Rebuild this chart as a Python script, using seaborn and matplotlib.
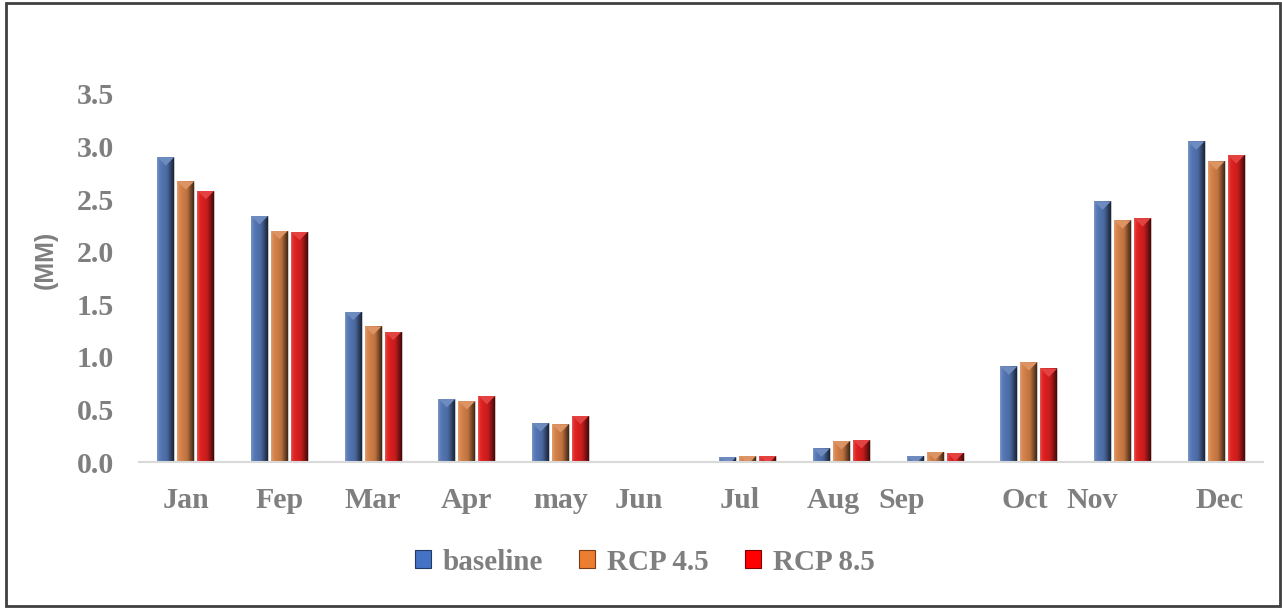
import numpy as np
import pandas as pd
import matplotlib.pyplot as plt
import matplotlib.transforms as mtransforms
from matplotlib.patches import Patch, Polygon, Rectangle
from matplotlib.colors import to_rgb
import seaborn as sns

# ---- data ----
months = ['Jan', 'Fep', 'Mar', 'Apr', 'may', 'Jun', 'Jul', 'Aug', 'Sep', 'Oct', 'Nov', 'Dec']
baseline = [2.90, 2.34, 1.43, 0.60, 0.37, 0.0, 0.05, 0.13, 0.06, 0.91, 2.48, 3.05]
rcp45 = [2.67, 2.20, 1.29, 0.58, 0.36, 0.0, 0.06, 0.20, 0.10, 0.95, 2.30, 2.86]
rcp85 = [2.58, 2.19, 1.24, 0.63, 0.44, 0.0, 0.06, 0.21, 0.09, 0.89, 2.32, 2.92]
series = ['baseline', 'RCP 4.5', 'RCP 8.5']
y_ticks = [0.0, 0.5, 1.0, 1.5, 2.0, 2.5, 3.0, 3.5]

colors = ['#4472C4', '#ED7D31', '#FF0000']
grey = '#7f7f7f'
# month labels in the original are not centred under their groups (pixels)
label_shift_px = [0, 0, 0, 0, 0, -15, -8, -8, -34, -4, -30, 3]

df = pd.DataFrame({
    'month': months * 3,
    'value': baseline + rcp45 + rcp85,
    'scenario': np.repeat(series, len(months)),
})

sns.set_theme(style='white')
plt.rcParams['font.family'] = ['Liberation Serif', 'DejaVu Serif']

fig = plt.figure(figsize=(12.82, 6.08), dpi=100)
ax = fig.add_axes([0.1084, 0.2401, 0.8768, 0.6053])

sns.barplot(data=df, x='month', y='value', hue='scenario', hue_order=series,
            palette=colors, width=0.64, gap=0.15, ax=ax, legend=False,
            edgecolor='#c8c8c8', linewidth=0.6, zorder=2)

ax.set_xlim(-0.5, len(months) - 0.5)
ax.set_ylim(0, 3.5)


def shade(rgb, f):
    rgb = np.asarray(rgb)
    if f <= 1:
        return rgb * f
    return rgb + (1 - rgb) * (f - 1)


# cylinder-like shading + bevelled top, like the office 3D bars
t = np.linspace(0, 1, 64)
prof = np.interp(t, [0, 0.1, 0.22, 0.6, 1.0], [1.25, 1.08, 1.0, 0.88, 0.3])
px_x = ax.transData.transform((1, 0))[0] - ax.transData.transform((0, 0))[0]
px_y = ax.transData.transform((0, 1))[1] - ax.transData.transform((0, 0))[1]
for p in list(ax.patches):
    h = p.get_height()
    if h <= 0:
        continue
    x0, w, y0 = p.get_x(), p.get_width(), p.get_y()
    base = to_rgb(p.get_facecolor())
    grad = np.array([[shade(base, f) for f in prof]])
    im = ax.imshow(grad, extent=[x0, x0 + w, y0, y0 + h], aspect='auto',
                   zorder=2.1, interpolation='bilinear')
    im.set_clip_path(p)
    d = (w / 2) * px_x / px_y
    tri = Polygon([[x0, y0 + h], [x0 + w, y0 + h], [x0 + w / 2, y0 + h - d]],
                  closed=True, facecolor=shade(base, 1.15), edgecolor='none', zorder=2.2)
    ax.add_patch(tri)
    tri.set_clip_path(p)

ax.set_xlim(-0.5, len(months) - 0.5)
ax.set_ylim(0, 3.5)
ax.set_aspect('auto')

# axes styling
for s in ['top', 'right', 'left']:
    ax.spines[s].set_visible(False)
ax.spines['bottom'].set_color('#d9d9d9')
ax.spines['bottom'].set_linewidth(1.5)
ax.set_xlabel('')
ax.set_ylabel('')
ax.grid(False)

ax.set_xticks(range(len(months)))
ax.set_xticks(np.arange(-0.5, len(months), 1.0), minor=True)
ax.set_xticklabels(months, fontsize=21.5, fontweight='bold', color=grey)
ax.tick_params(axis='x', which='major', length=0, pad=18)
ax.tick_params(axis='x', which='minor', length=8, width=1.5, color='#d9d9d9', direction='out')
for lab, dx in zip(ax.get_xticklabels(), label_shift_px):
    lab.set_transform(lab.get_transform() + mtransforms.ScaledTranslation(dx / 100, 0, fig.dpi_scale_trans))

ax.set_yticks(y_ticks)
ax.set_yticklabels([f'{v:.1f}' for v in y_ticks], fontsize=21.5, fontweight='bold', color=grey)
ax.tick_params(axis='y', length=0, pad=18)

fig.text(46 / 1282, 1 - 260 / 608, '(MM)', rotation=90, ha='center', va='center',
         fontsize=18, fontweight='bold', color=grey, family=['Liberation Sans', 'DejaVu Sans'])

handles = [Patch(facecolor=c, edgecolor=shade(to_rgb(c), 0.5), linewidth=0.8) for c in colors]
fig.legend(handles, series, loc='center', bbox_to_anchor=(0.503, 1 - 562 / 608), ncol=3,
           frameon=False, prop={'size': 21, 'weight': 'bold'}, labelcolor=grey,
           handlelength=0.55, handleheight=0.55, handletextpad=0.4, columnspacing=1.25)

# outer chart border
fig.patches.append(Rectangle((6 / 1282, 2 / 608), 1274 / 1282, 603 / 608, transform=fig.transFigure,
                             fill=False, edgecolor='#404040', linewidth=2))

fig.savefig('out.png', dpi=100)
